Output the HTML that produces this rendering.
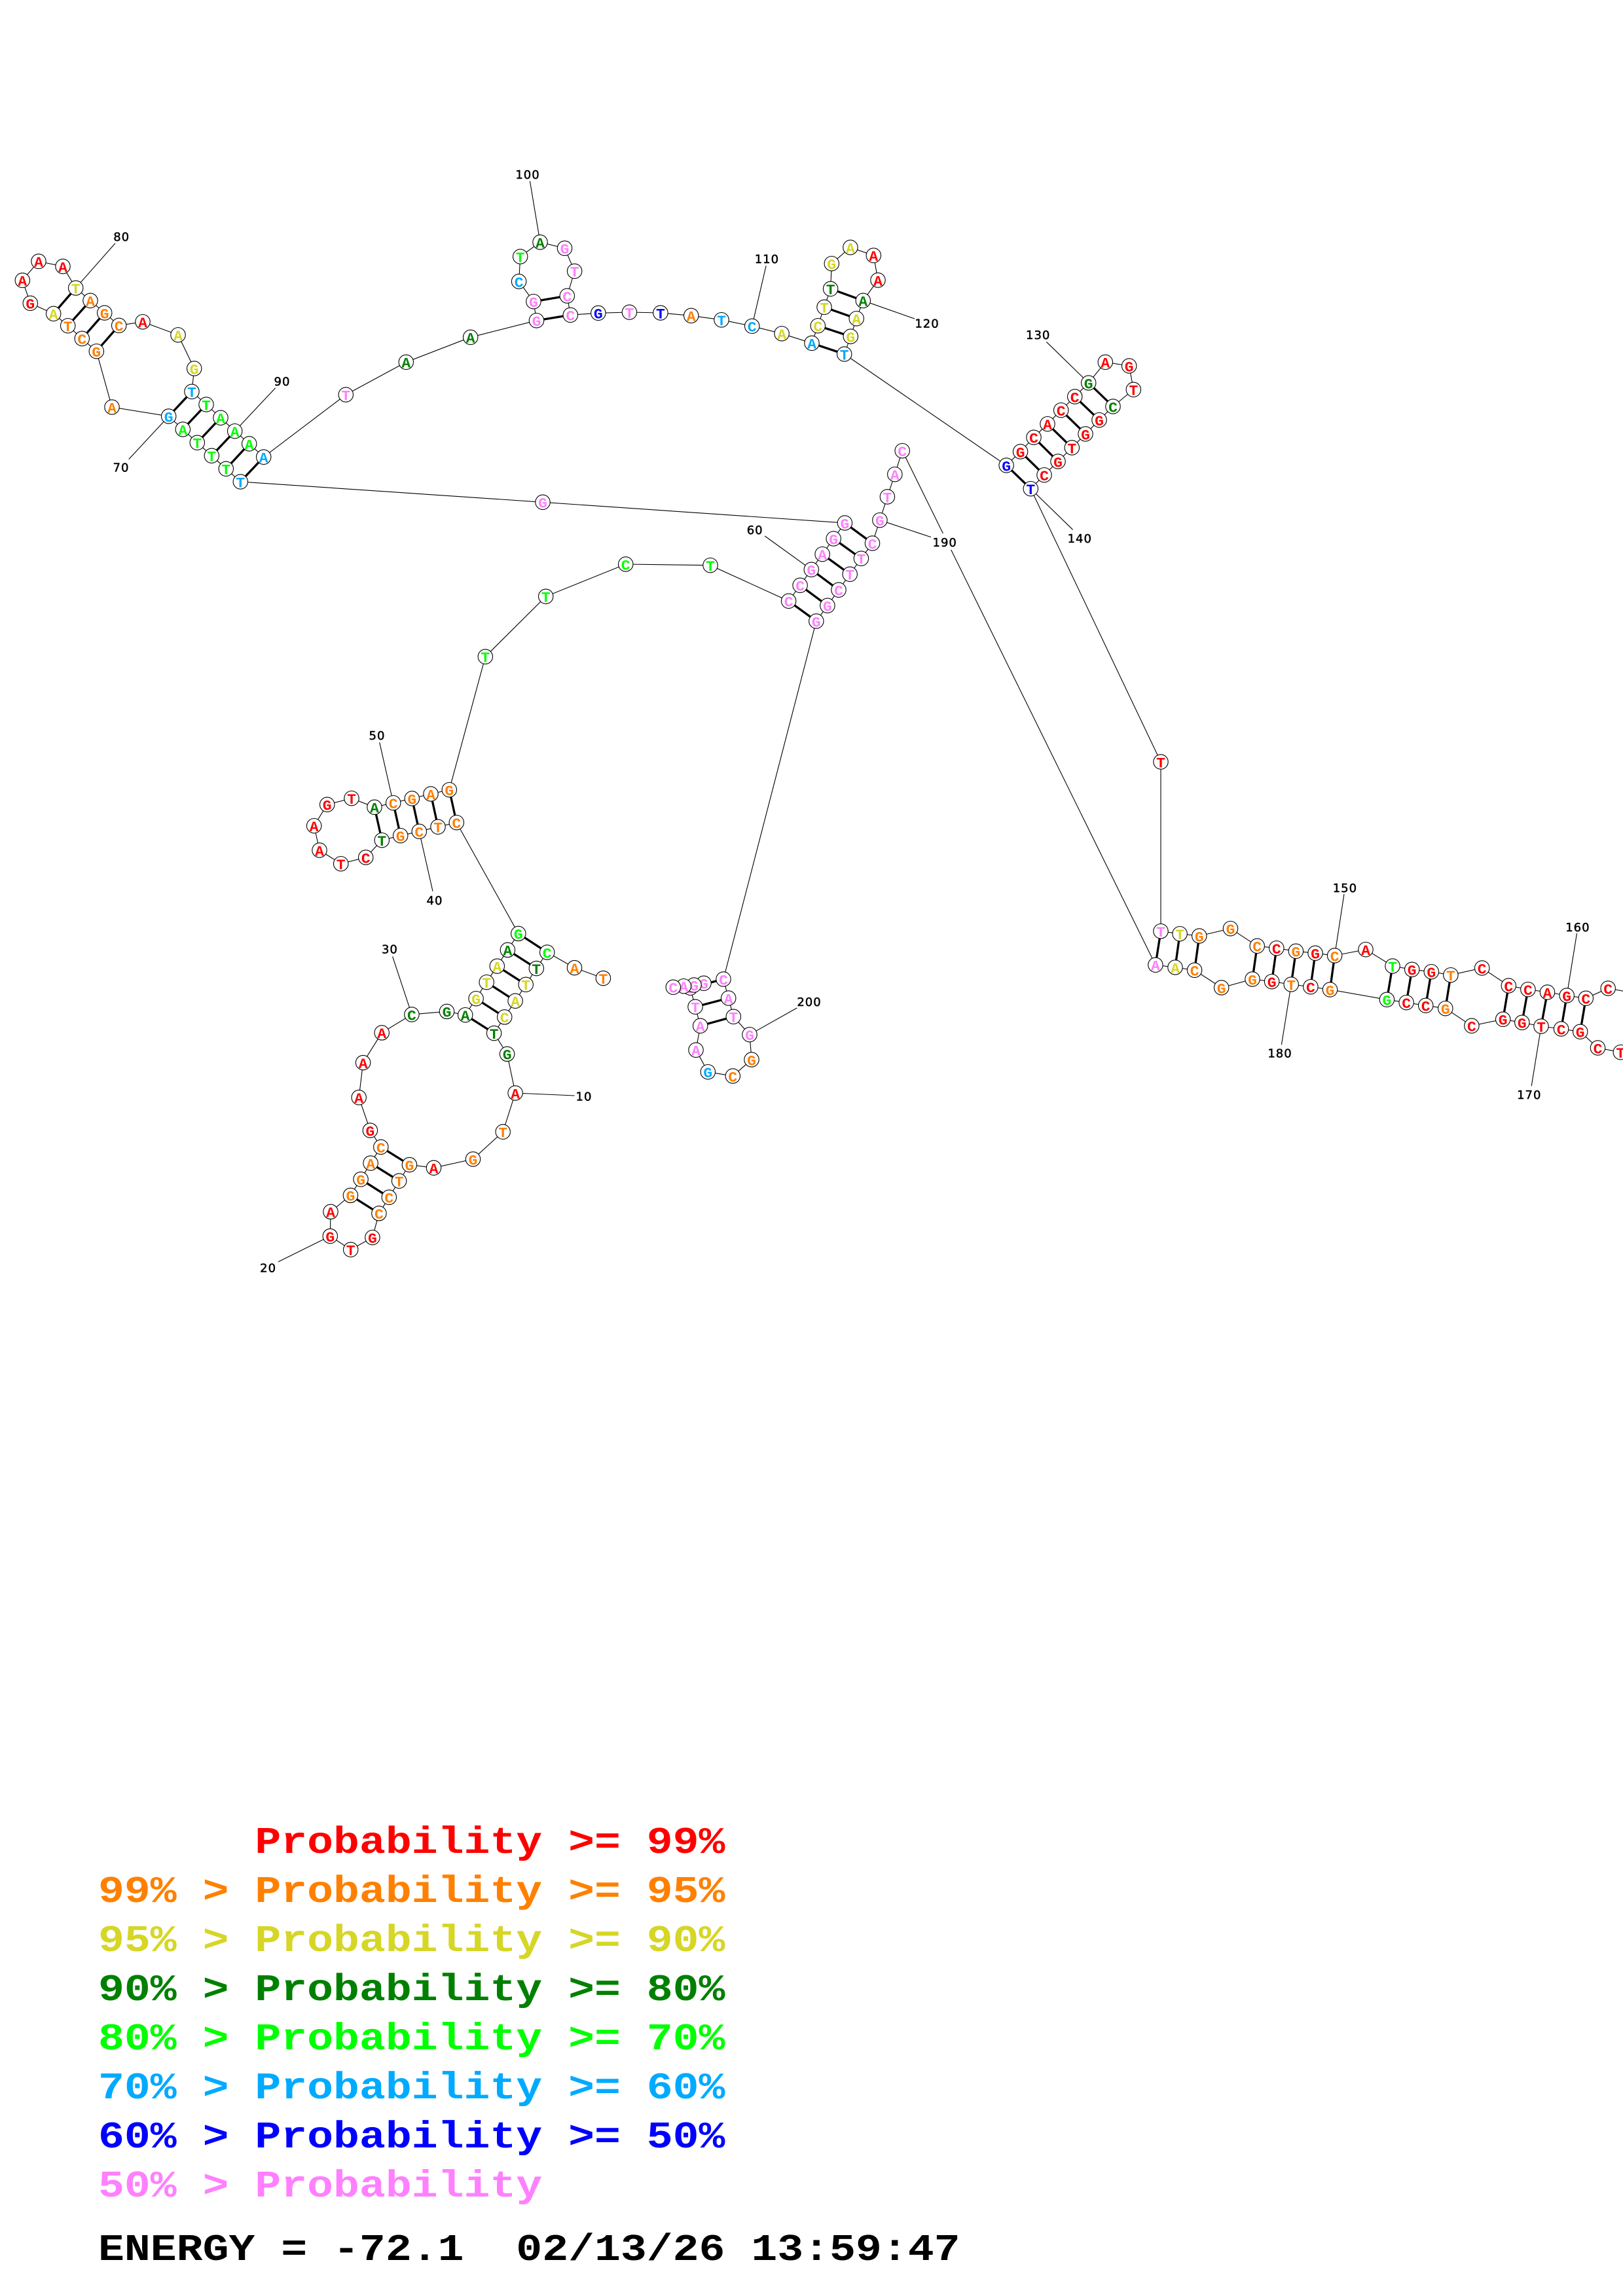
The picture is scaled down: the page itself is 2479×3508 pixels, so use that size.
<!DOCTYPE html>
<html lang="en"><head><meta charset="utf-8"><title>RNA structure</title>
<style>
html,body{margin:0;padding:0;background:#fff;width:2479px;height:3508px;overflow:hidden}
svg{display:block}
circle{fill:#fff;stroke:#000;stroke-width:1.1px}
.n text{font:bold 23px "Liberation Mono",monospace;text-anchor:middle;transform:translateY(8.3px) scaleY(.95)}
.r{fill:#f00}.o{fill:#ff8000}.y{fill:#d6d626}.d{fill:#008000}.g{fill:#0f0}.l{fill:#00aaff}.b{fill:#00f}.p{fill:#ff80ff}
.k{fill:#000}
.lab{font:18px "DejaVu Sans",sans-serif;letter-spacing:1px;text-anchor:middle;fill:#000;stroke:#000;stroke-width:.5px}
.leg{font:bold 66.5px "Liberation Mono",monospace;white-space:pre}
</style></head><body>
<svg width="2479" height="3508" viewBox="0 0 2479 3508" xmlns="http://www.w3.org/2000/svg">
<polyline fill="none" stroke="#000" stroke-width="1.1" points="921.4,1494.6 877.5,1478.6 835.7,1455 819.3,1479.6 803.2,1504.3 787.1,1529.3 770.7,1553.9 754.6,1578.6 774.6,1610.4 787.1,1670 768.2,1729.3 722.5,1771 662.5,1784.3 625.4,1779.6 609.6,1804.3 594.3,1829.3 578.9,1853.9 568.9,1890.7 535.7,1909.3 504.3,1888.6 505,1851.4 535.4,1826.4 551.1,1801.8 566.1,1777.1 581.8,1752.5 565.4,1727.1 548.2,1676.8 554.6,1623.6 583.2,1577.9 628.9,1550 682.5,1545.4 710.7,1550.7 727.1,1525.7 743.2,1500.7 759.3,1476.1 775.4,1451.4 791.8,1426.4 697.3,1256.7 669,1263.3 640.3,1270.3 611.7,1276.7 583.3,1283.7 558.7,1310 520.7,1319.7 488,1299 479.7,1261.7 499.7,1229.3 537,1219.7 572,1233.3 600.7,1226.7 629.3,1220 658,1213 686.3,1206.7 741.3,1003.3 833.7,911.3 955.7,862 1085,863.7 1204.6,918.3 1222.1,894.3 1239.3,870.3 1256.1,846.7 1273.2,823 1290.4,799 829,767.3 367.3,736 345.3,716.3 323.3,696.3 301.3,676.3 279.3,656 257.7,636 171,622 147.3,536.7 125.3,517.3 103.7,497.7 81.7,479.3 46.3,463.3 34.3,428.3 59,399.3 96,407 115.7,440 138,459.3 159.7,478 181.7,497.3 218,491.7 272,511.7 296.7,563 293,598.3 315,618 337,638.3 358.7,658.7 380.7,678 402.7,698.3 528.3,603 620.3,553.3 718.7,515.3 819.5,489.7 814.9,460.7 792.6,430 794.7,392 825,370 862.5,379.3 877.6,414.3 866.3,452 871.3,481.3 913.8,478.3 961.4,477 1008.9,478 1055.7,482.3 1102,488.7 1148.7,498.3 1194.1,509.7 1240,524.3 1249.3,497.7 1259,469.3 1268.6,441.3 1270.3,402.7 1298.9,378 1334.3,390.3 1341,428 1318.3,459.3 1308.2,486.7 1299.3,514 1289.7,541 1537.1,711 1558.6,690 1579,668.3 1600,647.7 1620.7,626.7 1641.7,606 1662.7,585 1688.3,553.3 1724.7,559 1731.3,595.3 1700,621 1679,641.7 1658,663 1637.3,684 1616,705 1595,725.7 1574.3,746.7 1773,1164 1773,1422.7 1802.1,1426.7 1831.8,1430 1879.5,1418.7 1920.2,1445.3 1949.8,1448.7 1979.4,1453.3 2009,1456.3 2038.6,1460 2086,1450.7 2127,1476 2156.7,1481.3 2186.3,1484.7 2215.9,1489.7 2263.7,1479 2304.3,1506 2333.9,1511.7 2363.5,1516 2393.2,1521 2422.3,1525.3 2456.2,1510 2510,1520 2540,1570 2515,1612 2475.3,1607.7 2440.5,1601 2413.7,1576.3 2384.6,1572 2354,1568 2324.8,1562.3 2295.7,1557.3 2247.9,1567.3 2207.8,1540.7 2177.7,1536.3 2148.1,1531.7 2118.4,1527.3 2031.5,1512 2001.9,1507.7 1972.2,1504 1942.6,1499.7 1913,1496 1865.7,1509 1824.6,1482.3 1795,1478 1764.9,1474.3 1378.2,688.7 1366.8,724.7 1355.4,759 1343.9,794.7 1332.5,830 1315.4,853.3 1298.2,877.3 1281,901.3 1263.9,925.3 1246.8,949 1105,1496 1112.7,1525 1120.3,1553.3 1145,1580.7 1148,1619 1119.3,1644 1081.3,1637.7 1063,1604.3 1069.7,1567.3 1062,1538.3 1054.3,1509.3 1075,1502.3 1060,1505 1044.3,1506.7 1028.3,1508.3"/>
<path fill="none" stroke="#000" stroke-width="3.3" d="M835.7 1455L791.8 1426.4M819.3 1479.6L775.4 1451.4M803.2 1504.3L759.3 1476.1M787.1 1529.3L743.2 1500.7M770.7 1553.9L727.1 1525.7M754.6 1578.6L710.7 1550.7M625.4 1779.6L581.8 1752.5M609.6 1804.3L566.1 1777.1M594.3 1829.3L551.1 1801.8M578.9 1853.9L535.4 1826.4M697.3 1256.7L686.3 1206.7M669 1263.3L658 1213M640.3 1270.3L629.3 1220M611.7 1276.7L600.7 1226.7M583.3 1283.7L572 1233.3M1204.6 918.3L1246.8 949M1222.1 894.3L1263.9 925.3M1239.3 870.3L1281 901.3M1256.1 846.7L1298.2 877.3M1273.2 823L1315.4 853.3M1290.4 799L1332.5 830M367.3 736L402.7 698.3M345.3 716.3L380.7 678M323.3 696.3L358.7 658.7M301.3 676.3L337 638.3M279.3 656L315 618M257.7 636L293 598.3M147.3 536.7L181.7 497.3M125.3 517.3L159.7 478M103.7 497.7L138 459.3M81.7 479.3L115.7 440M819.5 489.7L871.3 481.3M814.9 460.7L866.3 452M1240 524.3L1289.7 541M1249.3 497.7L1299.3 514M1259 469.3L1308.2 486.7M1268.6 441.3L1318.3 459.3M1537.1 711L1574.3 746.7M1558.6 690L1595 725.7M1579 668.3L1616 705M1600 647.7L1637.3 684M1620.7 626.7L1658 663M1641.7 606L1679 641.7M1662.7 585L1700 621M1773 1422.7L1764.9 1474.3M1802.1 1426.7L1795 1478M1831.8 1430L1824.6 1482.3M1920.2 1445.3L1913 1496M1949.8 1448.7L1942.6 1499.7M1979.4 1453.3L1972.2 1504M2009 1456.3L2001.9 1507.7M2038.6 1460L2031.5 1512M2127 1476L2118.4 1527.3M2156.7 1481.3L2148.1 1531.7M2186.3 1484.7L2177.7 1536.3M2215.9 1489.7L2207.8 1540.7M2304.3 1506L2295.7 1557.3M2333.9 1511.7L2324.8 1562.3M2363.5 1516L2354 1568M2393.2 1521L2384.6 1572M2422.3 1525.3L2413.7 1576.3M1105 1496L1054.3 1509.3M1112.7 1525L1062 1538.3M1120.3 1553.3L1069.7 1567.3"/>
<path fill="none" stroke="#000" stroke-width="1.1" d="M787.1 1670L877.5 1674M504.3 1888.6L425 1927.9M628.9 1550L599.6 1461.4M640.3 1270.3L661 1361.7M600.7 1226.7L579.7 1134.3M1239.3 870.3L1168.2 819M257.7 636L196.7 701.7M115.7 440L176 371.7M358.7 658.7L420.7 592.7M825 370L809.4 276.7M1148.7 498.3L1170.1 406M1318.3 459.3L1397 487M1662.7 585L1598.3 522.3M1574.3 746.7L1638.6 809.3M2038.6 1460L2053 1366M2393.2 1521L2408.5 1426M2354 1568L2339.2 1659.3M1972.2 1504L1957.4 1596.3M1343.9 794.7L1422.9 821M1145 1580.7L1217.3 1540"/>
<rect x="1422" y="815" width="42" height="25" fill="#fff"/>
<g class="lab">
<text x="892" y="1681.5">10</text><text x="409.6" y="1943.3">20</text><text x="595.4" y="1456.5">30</text><text x="664" y="1381.8">40</text><text x="576" y="1130.2">50</text><text x="1153.2" y="815.8">60</text><text x="185" y="720.5">70</text><text x="185.7" y="367.8">80</text><text x="431" y="588.8">90</text><text x="806" y="272.8">100</text><text x="1171.4" y="401.8">110</text><text x="1416" y="500.5">120</text><text x="1585.7" y="517.8">130</text><text x="1649.3" y="829.2">140</text><text x="2054.4" y="1362.8">150</text><text x="2409.9" y="1422.8">160</text><text x="2335.8" y="1678.8">170</text><text x="1955" y="1615.5">180</text><text x="1443.2" y="834.8">190</text><text x="1236" y="1536.8">200</text>
</g>
<g class="n">
<g transform="translate(921.4 1494.6)"><circle r="11.2"/><text class="o">T</text></g>
<g transform="translate(877.5 1478.6)"><circle r="11.2"/><text class="o">A</text></g>
<g transform="translate(835.7 1455)"><circle r="11.2"/><text class="g">C</text></g>
<g transform="translate(819.3 1479.6)"><circle r="11.2"/><text class="d">T</text></g>
<g transform="translate(803.2 1504.3)"><circle r="11.2"/><text class="y">T</text></g>
<g transform="translate(787.1 1529.3)"><circle r="11.2"/><text class="y">A</text></g>
<g transform="translate(770.7 1553.9)"><circle r="11.2"/><text class="y">C</text></g>
<g transform="translate(754.6 1578.6)"><circle r="11.2"/><text class="d">T</text></g>
<g transform="translate(774.6 1610.4)"><circle r="11.2"/><text class="d">G</text></g>
<g transform="translate(787.1 1670)"><circle r="11.2"/><text class="r">A</text></g>
<g transform="translate(768.2 1729.3)"><circle r="11.2"/><text class="o">T</text></g>
<g transform="translate(722.5 1771)"><circle r="11.2"/><text class="o">G</text></g>
<g transform="translate(662.5 1784.3)"><circle r="11.2"/><text class="r">A</text></g>
<g transform="translate(625.4 1779.6)"><circle r="11.2"/><text class="o">G</text></g>
<g transform="translate(609.6 1804.3)"><circle r="11.2"/><text class="o">T</text></g>
<g transform="translate(594.3 1829.3)"><circle r="11.2"/><text class="o">C</text></g>
<g transform="translate(578.9 1853.9)"><circle r="11.2"/><text class="o">C</text></g>
<g transform="translate(568.9 1890.7)"><circle r="11.2"/><text class="r">G</text></g>
<g transform="translate(535.7 1909.3)"><circle r="11.2"/><text class="r">T</text></g>
<g transform="translate(504.3 1888.6)"><circle r="11.2"/><text class="r">G</text></g>
<g transform="translate(505 1851.4)"><circle r="11.2"/><text class="r">A</text></g>
<g transform="translate(535.4 1826.4)"><circle r="11.2"/><text class="o">G</text></g>
<g transform="translate(551.1 1801.8)"><circle r="11.2"/><text class="o">G</text></g>
<g transform="translate(566.1 1777.1)"><circle r="11.2"/><text class="o">A</text></g>
<g transform="translate(581.8 1752.5)"><circle r="11.2"/><text class="o">C</text></g>
<g transform="translate(565.4 1727.1)"><circle r="11.2"/><text class="r">G</text></g>
<g transform="translate(548.2 1676.8)"><circle r="11.2"/><text class="r">A</text></g>
<g transform="translate(554.6 1623.6)"><circle r="11.2"/><text class="r">A</text></g>
<g transform="translate(583.2 1577.9)"><circle r="11.2"/><text class="r">A</text></g>
<g transform="translate(628.9 1550)"><circle r="11.2"/><text class="d">C</text></g>
<g transform="translate(682.5 1545.4)"><circle r="11.2"/><text class="d">G</text></g>
<g transform="translate(710.7 1550.7)"><circle r="11.2"/><text class="d">A</text></g>
<g transform="translate(727.1 1525.7)"><circle r="11.2"/><text class="y">G</text></g>
<g transform="translate(743.2 1500.7)"><circle r="11.2"/><text class="y">T</text></g>
<g transform="translate(759.3 1476.1)"><circle r="11.2"/><text class="y">A</text></g>
<g transform="translate(775.4 1451.4)"><circle r="11.2"/><text class="d">A</text></g>
<g transform="translate(791.8 1426.4)"><circle r="11.2"/><text class="g">G</text></g>
<g transform="translate(697.3 1256.7)"><circle r="11.2"/><text class="o">C</text></g>
<g transform="translate(669 1263.3)"><circle r="11.2"/><text class="o">T</text></g>
<g transform="translate(640.3 1270.3)"><circle r="11.2"/><text class="o">C</text></g>
<g transform="translate(611.7 1276.7)"><circle r="11.2"/><text class="o">G</text></g>
<g transform="translate(583.3 1283.7)"><circle r="11.2"/><text class="d">T</text></g>
<g transform="translate(558.7 1310)"><circle r="11.2"/><text class="r">C</text></g>
<g transform="translate(520.7 1319.7)"><circle r="11.2"/><text class="r">T</text></g>
<g transform="translate(488 1299)"><circle r="11.2"/><text class="r">A</text></g>
<g transform="translate(479.7 1261.7)"><circle r="11.2"/><text class="r">A</text></g>
<g transform="translate(499.7 1229.3)"><circle r="11.2"/><text class="r">G</text></g>
<g transform="translate(537 1219.7)"><circle r="11.2"/><text class="r">T</text></g>
<g transform="translate(572 1233.3)"><circle r="11.2"/><text class="d">A</text></g>
<g transform="translate(600.7 1226.7)"><circle r="11.2"/><text class="o">C</text></g>
<g transform="translate(629.3 1220)"><circle r="11.2"/><text class="o">G</text></g>
<g transform="translate(658 1213)"><circle r="11.2"/><text class="o">A</text></g>
<g transform="translate(686.3 1206.7)"><circle r="11.2"/><text class="o">G</text></g>
<g transform="translate(741.3 1003.3)"><circle r="11.2"/><text class="g">T</text></g>
<g transform="translate(833.7 911.3)"><circle r="11.2"/><text class="g">T</text></g>
<g transform="translate(955.7 862)"><circle r="11.2"/><text class="g">C</text></g>
<g transform="translate(1085 863.7)"><circle r="11.2"/><text class="g">T</text></g>
<g transform="translate(1204.6 918.3)"><circle r="11.2"/><text class="p">C</text></g>
<g transform="translate(1222.1 894.3)"><circle r="11.2"/><text class="p">C</text></g>
<g transform="translate(1239.3 870.3)"><circle r="11.2"/><text class="p">G</text></g>
<g transform="translate(1256.1 846.7)"><circle r="11.2"/><text class="p">A</text></g>
<g transform="translate(1273.2 823)"><circle r="11.2"/><text class="p">G</text></g>
<g transform="translate(1290.4 799)"><circle r="11.2"/><text class="p">G</text></g>
<g transform="translate(829 767.3)"><circle r="11.2"/><text class="p">G</text></g>
<g transform="translate(367.3 736)"><circle r="11.2"/><text class="l">T</text></g>
<g transform="translate(345.3 716.3)"><circle r="11.2"/><text class="g">T</text></g>
<g transform="translate(323.3 696.3)"><circle r="11.2"/><text class="g">T</text></g>
<g transform="translate(301.3 676.3)"><circle r="11.2"/><text class="g">T</text></g>
<g transform="translate(279.3 656)"><circle r="11.2"/><text class="g">A</text></g>
<g transform="translate(257.7 636)"><circle r="11.2"/><text class="l">G</text></g>
<g transform="translate(171 622)"><circle r="11.2"/><text class="o">A</text></g>
<g transform="translate(147.3 536.7)"><circle r="11.2"/><text class="o">G</text></g>
<g transform="translate(125.3 517.3)"><circle r="11.2"/><text class="o">C</text></g>
<g transform="translate(103.7 497.7)"><circle r="11.2"/><text class="o">T</text></g>
<g transform="translate(81.7 479.3)"><circle r="11.2"/><text class="y">A</text></g>
<g transform="translate(46.3 463.3)"><circle r="11.2"/><text class="r">G</text></g>
<g transform="translate(34.3 428.3)"><circle r="11.2"/><text class="r">A</text></g>
<g transform="translate(59 399.3)"><circle r="11.2"/><text class="r">A</text></g>
<g transform="translate(96 407)"><circle r="11.2"/><text class="r">A</text></g>
<g transform="translate(115.7 440)"><circle r="11.2"/><text class="y">T</text></g>
<g transform="translate(138 459.3)"><circle r="11.2"/><text class="o">A</text></g>
<g transform="translate(159.7 478)"><circle r="11.2"/><text class="o">G</text></g>
<g transform="translate(181.7 497.3)"><circle r="11.2"/><text class="o">C</text></g>
<g transform="translate(218 491.7)"><circle r="11.2"/><text class="r">A</text></g>
<g transform="translate(272 511.7)"><circle r="11.2"/><text class="y">A</text></g>
<g transform="translate(296.7 563)"><circle r="11.2"/><text class="y">G</text></g>
<g transform="translate(293 598.3)"><circle r="11.2"/><text class="l">T</text></g>
<g transform="translate(315 618)"><circle r="11.2"/><text class="g">T</text></g>
<g transform="translate(337 638.3)"><circle r="11.2"/><text class="g">A</text></g>
<g transform="translate(358.7 658.7)"><circle r="11.2"/><text class="g">A</text></g>
<g transform="translate(380.7 678)"><circle r="11.2"/><text class="g">A</text></g>
<g transform="translate(402.7 698.3)"><circle r="11.2"/><text class="l">A</text></g>
<g transform="translate(528.3 603)"><circle r="11.2"/><text class="p">T</text></g>
<g transform="translate(620.3 553.3)"><circle r="11.2"/><text class="d">A</text></g>
<g transform="translate(718.7 515.3)"><circle r="11.2"/><text class="d">A</text></g>
<g transform="translate(819.5 489.7)"><circle r="11.2"/><text class="p">G</text></g>
<g transform="translate(814.9 460.7)"><circle r="11.2"/><text class="p">G</text></g>
<g transform="translate(792.6 430)"><circle r="11.2"/><text class="l">C</text></g>
<g transform="translate(794.7 392)"><circle r="11.2"/><text class="g">T</text></g>
<g transform="translate(825 370)"><circle r="11.2"/><text class="d">A</text></g>
<g transform="translate(862.5 379.3)"><circle r="11.2"/><text class="p">G</text></g>
<g transform="translate(877.6 414.3)"><circle r="11.2"/><text class="p">T</text></g>
<g transform="translate(866.3 452)"><circle r="11.2"/><text class="p">C</text></g>
<g transform="translate(871.3 481.3)"><circle r="11.2"/><text class="p">C</text></g>
<g transform="translate(913.8 478.3)"><circle r="11.2"/><text class="b">G</text></g>
<g transform="translate(961.4 477)"><circle r="11.2"/><text class="p">T</text></g>
<g transform="translate(1008.9 478)"><circle r="11.2"/><text class="b">T</text></g>
<g transform="translate(1055.7 482.3)"><circle r="11.2"/><text class="o">A</text></g>
<g transform="translate(1102 488.7)"><circle r="11.2"/><text class="l">T</text></g>
<g transform="translate(1148.7 498.3)"><circle r="11.2"/><text class="l">C</text></g>
<g transform="translate(1194.1 509.7)"><circle r="11.2"/><text class="y">A</text></g>
<g transform="translate(1240 524.3)"><circle r="11.2"/><text class="l">A</text></g>
<g transform="translate(1249.3 497.7)"><circle r="11.2"/><text class="y">C</text></g>
<g transform="translate(1259 469.3)"><circle r="11.2"/><text class="y">T</text></g>
<g transform="translate(1268.6 441.3)"><circle r="11.2"/><text class="d">T</text></g>
<g transform="translate(1270.3 402.7)"><circle r="11.2"/><text class="y">G</text></g>
<g transform="translate(1298.9 378)"><circle r="11.2"/><text class="y">A</text></g>
<g transform="translate(1334.3 390.3)"><circle r="11.2"/><text class="r">A</text></g>
<g transform="translate(1341 428)"><circle r="11.2"/><text class="r">A</text></g>
<g transform="translate(1318.3 459.3)"><circle r="11.2"/><text class="d">A</text></g>
<g transform="translate(1308.2 486.7)"><circle r="11.2"/><text class="y">A</text></g>
<g transform="translate(1299.3 514)"><circle r="11.2"/><text class="y">G</text></g>
<g transform="translate(1289.7 541)"><circle r="11.2"/><text class="l">T</text></g>
<g transform="translate(1537.1 711)"><circle r="11.2"/><text class="b">G</text></g>
<g transform="translate(1558.6 690)"><circle r="11.2"/><text class="r">G</text></g>
<g transform="translate(1579 668.3)"><circle r="11.2"/><text class="r">C</text></g>
<g transform="translate(1600 647.7)"><circle r="11.2"/><text class="r">A</text></g>
<g transform="translate(1620.7 626.7)"><circle r="11.2"/><text class="r">C</text></g>
<g transform="translate(1641.7 606)"><circle r="11.2"/><text class="r">C</text></g>
<g transform="translate(1662.7 585)"><circle r="11.2"/><text class="d">G</text></g>
<g transform="translate(1688.3 553.3)"><circle r="11.2"/><text class="r">A</text></g>
<g transform="translate(1724.7 559)"><circle r="11.2"/><text class="r">G</text></g>
<g transform="translate(1731.3 595.3)"><circle r="11.2"/><text class="r">T</text></g>
<g transform="translate(1700 621)"><circle r="11.2"/><text class="d">C</text></g>
<g transform="translate(1679 641.7)"><circle r="11.2"/><text class="r">G</text></g>
<g transform="translate(1658 663)"><circle r="11.2"/><text class="r">G</text></g>
<g transform="translate(1637.3 684)"><circle r="11.2"/><text class="r">T</text></g>
<g transform="translate(1616 705)"><circle r="11.2"/><text class="r">G</text></g>
<g transform="translate(1595 725.7)"><circle r="11.2"/><text class="r">C</text></g>
<g transform="translate(1574.3 746.7)"><circle r="11.2"/><text class="b">T</text></g>
<g transform="translate(1773 1164)"><circle r="11.2"/><text class="r">T</text></g>
<g transform="translate(1773 1422.7)"><circle r="11.2"/><text class="p">T</text></g>
<g transform="translate(1802.1 1426.7)"><circle r="11.2"/><text class="y">T</text></g>
<g transform="translate(1831.8 1430)"><circle r="11.2"/><text class="o">G</text></g>
<g transform="translate(1879.5 1418.7)"><circle r="11.2"/><text class="o">G</text></g>
<g transform="translate(1920.2 1445.3)"><circle r="11.2"/><text class="o">C</text></g>
<g transform="translate(1949.8 1448.7)"><circle r="11.2"/><text class="r">C</text></g>
<g transform="translate(1979.4 1453.3)"><circle r="11.2"/><text class="o">G</text></g>
<g transform="translate(2009 1456.3)"><circle r="11.2"/><text class="r">G</text></g>
<g transform="translate(2038.6 1460)"><circle r="11.2"/><text class="o">C</text></g>
<g transform="translate(2086 1450.7)"><circle r="11.2"/><text class="r">A</text></g>
<g transform="translate(2127 1476)"><circle r="11.2"/><text class="g">T</text></g>
<g transform="translate(2156.7 1481.3)"><circle r="11.2"/><text class="r">G</text></g>
<g transform="translate(2186.3 1484.7)"><circle r="11.2"/><text class="r">G</text></g>
<g transform="translate(2215.9 1489.7)"><circle r="11.2"/><text class="o">T</text></g>
<g transform="translate(2263.7 1479)"><circle r="11.2"/><text class="r">C</text></g>
<g transform="translate(2304.3 1506)"><circle r="11.2"/><text class="r">C</text></g>
<g transform="translate(2333.9 1511.7)"><circle r="11.2"/><text class="r">C</text></g>
<g transform="translate(2363.5 1516)"><circle r="11.2"/><text class="r">A</text></g>
<g transform="translate(2393.2 1521)"><circle r="11.2"/><text class="r">G</text></g>
<g transform="translate(2422.3 1525.3)"><circle r="11.2"/><text class="r">C</text></g>
<g transform="translate(2456.2 1510)"><circle r="11.2"/><text class="r">C</text></g>
<g transform="translate(2475.3 1607.7)"><circle r="11.2"/><text class="r">T</text></g>
<g transform="translate(2440.5 1601)"><circle r="11.2"/><text class="r">C</text></g>
<g transform="translate(2413.7 1576.3)"><circle r="11.2"/><text class="r">G</text></g>
<g transform="translate(2384.6 1572)"><circle r="11.2"/><text class="r">C</text></g>
<g transform="translate(2354 1568)"><circle r="11.2"/><text class="r">T</text></g>
<g transform="translate(2324.8 1562.3)"><circle r="11.2"/><text class="r">G</text></g>
<g transform="translate(2295.7 1557.3)"><circle r="11.2"/><text class="r">G</text></g>
<g transform="translate(2247.9 1567.3)"><circle r="11.2"/><text class="r">C</text></g>
<g transform="translate(2207.8 1540.7)"><circle r="11.2"/><text class="o">G</text></g>
<g transform="translate(2177.7 1536.3)"><circle r="11.2"/><text class="r">C</text></g>
<g transform="translate(2148.1 1531.7)"><circle r="11.2"/><text class="r">C</text></g>
<g transform="translate(2118.4 1527.3)"><circle r="11.2"/><text class="g">G</text></g>
<g transform="translate(2031.5 1512)"><circle r="11.2"/><text class="o">G</text></g>
<g transform="translate(2001.9 1507.7)"><circle r="11.2"/><text class="r">C</text></g>
<g transform="translate(1972.2 1504)"><circle r="11.2"/><text class="o">T</text></g>
<g transform="translate(1942.6 1499.7)"><circle r="11.2"/><text class="r">G</text></g>
<g transform="translate(1913 1496)"><circle r="11.2"/><text class="o">G</text></g>
<g transform="translate(1865.7 1509)"><circle r="11.2"/><text class="o">G</text></g>
<g transform="translate(1824.6 1482.3)"><circle r="11.2"/><text class="o">C</text></g>
<g transform="translate(1795 1478)"><circle r="11.2"/><text class="y">A</text></g>
<g transform="translate(1764.9 1474.3)"><circle r="11.2"/><text class="p">A</text></g>
<g transform="translate(1378.2 688.7)"><circle r="11.2"/><text class="p">C</text></g>
<g transform="translate(1366.8 724.7)"><circle r="11.2"/><text class="p">A</text></g>
<g transform="translate(1355.4 759)"><circle r="11.2"/><text class="p">T</text></g>
<g transform="translate(1343.9 794.7)"><circle r="11.2"/><text class="p">G</text></g>
<g transform="translate(1332.5 830)"><circle r="11.2"/><text class="p">C</text></g>
<g transform="translate(1315.4 853.3)"><circle r="11.2"/><text class="p">T</text></g>
<g transform="translate(1298.2 877.3)"><circle r="11.2"/><text class="p">T</text></g>
<g transform="translate(1281 901.3)"><circle r="11.2"/><text class="p">C</text></g>
<g transform="translate(1263.9 925.3)"><circle r="11.2"/><text class="p">G</text></g>
<g transform="translate(1246.8 949)"><circle r="11.2"/><text class="p">G</text></g>
<g transform="translate(1105 1496)"><circle r="11.2"/><text class="p">C</text></g>
<g transform="translate(1112.7 1525)"><circle r="11.2"/><text class="p">A</text></g>
<g transform="translate(1120.3 1553.3)"><circle r="11.2"/><text class="p">T</text></g>
<g transform="translate(1145 1580.7)"><circle r="11.2"/><text class="p">G</text></g>
<g transform="translate(1148 1619)"><circle r="11.2"/><text class="o">G</text></g>
<g transform="translate(1119.3 1644)"><circle r="11.2"/><text class="o">C</text></g>
<g transform="translate(1081.3 1637.7)"><circle r="11.2"/><text class="l">G</text></g>
<g transform="translate(1063 1604.3)"><circle r="11.2"/><text class="p">A</text></g>
<g transform="translate(1069.7 1567.3)"><circle r="11.2"/><text class="p">A</text></g>
<g transform="translate(1062 1538.3)"><circle r="11.2"/><text class="p">T</text></g>
<g transform="translate(1054.3 1509.3)"><circle r="11.2"/><text class="p">G</text></g>
<g transform="translate(1075 1502.3)"><circle r="11.2"/><text class="p">G</text></g>
<g transform="translate(1060 1505)"><circle r="11.2"/><text class="p">G</text></g>
<g transform="translate(1044.3 1506.7)"><circle r="11.2"/><text class="p">A</text></g>
<g transform="translate(1028.3 1508.3)"><circle r="11.2"/><text class="p">C</text></g>
</g>
<g class="leg" xml:space="preserve">
<text transform="translate(150 2831) scale(1 .86)" class="r" xml:space="preserve">      Probability &gt;= 99%</text>
<text transform="translate(150 2906) scale(1 .86)" class="o" xml:space="preserve">99% &gt; Probability &gt;= 95%</text>
<text transform="translate(150 2981) scale(1 .86)" class="y" xml:space="preserve">95% &gt; Probability &gt;= 90%</text>
<text transform="translate(150 3056) scale(1 .86)" class="d" xml:space="preserve">90% &gt; Probability &gt;= 80%</text>
<text transform="translate(150 3131) scale(1 .86)" class="g" xml:space="preserve">80% &gt; Probability &gt;= 70%</text>
<text transform="translate(150 3206) scale(1 .86)" class="l" xml:space="preserve">70% &gt; Probability &gt;= 60%</text>
<text transform="translate(150 3281) scale(1 .86)" class="b" xml:space="preserve">60% &gt; Probability &gt;= 50%</text>
<text transform="translate(150 3356) scale(1 .86)" class="p" xml:space="preserve">50% &gt; Probability</text>
<text transform="translate(150 3453) scale(1 .86)" class="k" xml:space="preserve">ENERGY = -72.1  02/13/26 13:59:47</text>
</g>
</svg>
</body></html>
